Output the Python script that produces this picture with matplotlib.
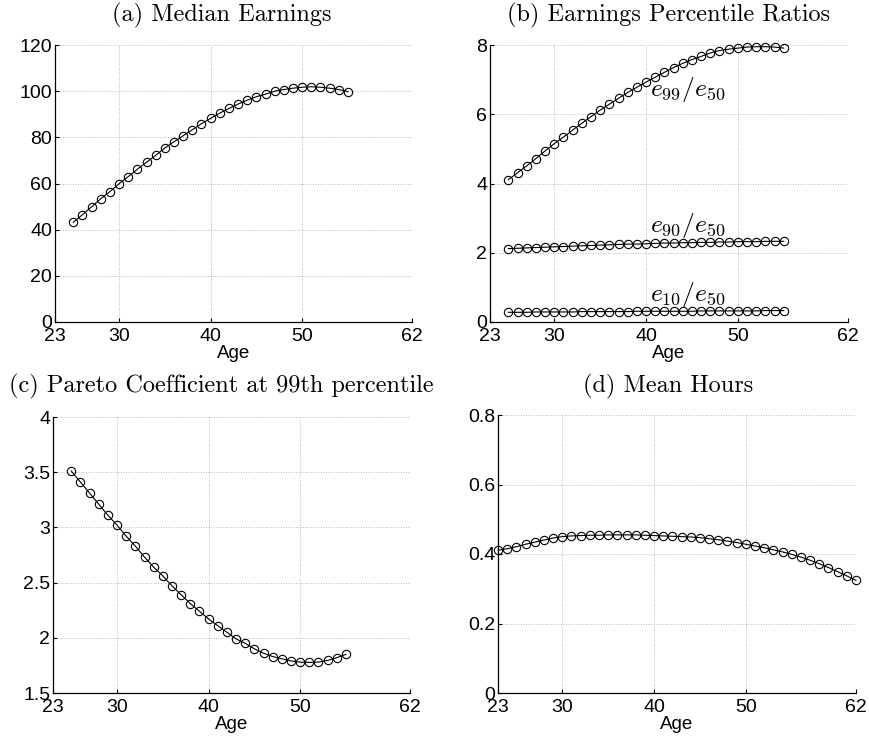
import numpy as np
import matplotlib
matplotlib.use("Agg")
from matplotlib import pyplot as plt

plt.rcParams["font.family"] = ["Liberation Sans", "DejaVu Sans"]
plt.rcParams["mathtext.fontset"] = "cm"

# ---------------------------------------------------------------------------
# Data
# ---------------------------------------------------------------------------
age_work = list(range(25, 56))
age_all = list(range(23, 63))

median_earnings = [43.2, 46.5, 49.9, 53.4, 56.5, 59.9, 63.0, 66.2, 69.2, 72.2,
                   75.4, 78.1, 80.7, 83.3, 85.9, 88.2, 90.5, 92.5, 94.4, 96.1,
                   97.6, 98.7, 100.0, 100.7, 101.3, 101.7, 101.9, 101.7, 101.3,
                   100.7, 99.8]

ratio_99_50 = [4.11, 4.31, 4.51, 4.72, 4.94, 5.15, 5.34, 5.54, 5.74, 5.93,
               6.12, 6.29, 6.46, 6.63, 6.78, 6.93, 7.07, 7.21, 7.35, 7.47,
               7.58, 7.67, 7.77, 7.84, 7.88, 7.91, 7.94, 7.95, 7.95, 7.94,
               7.91]
ratio_90_50 = [2.12, 2.13, 2.14, 2.15, 2.16, 2.17, 2.18, 2.19, 2.20, 2.21,
               2.22, 2.23, 2.24, 2.25, 2.25, 2.26, 2.27, 2.28, 2.28, 2.29,
               2.29, 2.30, 2.30, 2.31, 2.31, 2.32, 2.32, 2.32, 2.33, 2.33,
               2.33]
ratio_10_50 = [0.28, 0.28, 0.28, 0.29, 0.29, 0.29, 0.29, 0.29, 0.30, 0.30,
               0.30, 0.30, 0.30, 0.30, 0.31, 0.31, 0.31, 0.31, 0.31, 0.31,
               0.31, 0.32, 0.32, 0.32, 0.32, 0.32, 0.32, 0.32, 0.33, 0.33,
               0.33]

pareto_99 = [3.51, 3.41, 3.31, 3.21, 3.11, 3.02, 2.92, 2.83, 2.73, 2.64,
             2.56, 2.47, 2.39, 2.31, 2.24, 2.17, 2.11, 2.05, 1.99, 1.95,
             1.90, 1.86, 1.83, 1.81, 1.79, 1.78, 1.777, 1.78, 1.795, 1.82,
             1.85]

mean_hours = [0.411, 0.415, 0.421, 0.428, 0.434, 0.440, 0.446, 0.450, 0.452,
              0.453, 0.454, 0.454, 0.455, 0.455, 0.455, 0.455, 0.454, 0.453,
              0.452, 0.451, 0.450, 0.449, 0.447, 0.444, 0.441, 0.437, 0.433,
              0.428, 0.423, 0.418, 0.412, 0.406, 0.399, 0.391, 0.382, 0.372,
              0.361, 0.349, 0.337, 0.324]

x_ticks = [23, 30, 40, 50, 62]

W, H = 869, 736


def px_axes(left, top, right, bottom):
    return [left / W, 1 - bottom / H, (right - left) / W, (bottom - top) / H]


def style_axes(ax, yticks, ylabels, ylim):
    ax.set_xlim(23, 62)
    ax.set_ylim(*ylim)
    ax.set_xticks(x_ticks)
    ax.set_yticks(yticks)
    ax.set_yticklabels(ylabels)
    ax.spines["top"].set_visible(False)
    ax.spines["right"].set_visible(False)
    for s in ("left", "bottom"):
        ax.spines[s].set_linewidth(0.9)
    ax.tick_params(direction="in", length=3, width=0.8, labelsize=14)
    ax.tick_params(axis="y", pad=2)
    ax.tick_params(axis="x", pad=4)
    ax.grid(True, linestyle=(0, (1, 2)), color="#a0a0a0", linewidth=0.6)
    ax.set_axisbelow(True)
    ax.set_xlabel("Age", fontsize=13.5, labelpad=0)


def draw(ax, x, y):
    ax.plot(x, y, "-o", color="black", linewidth=0.8, markersize=6,
            markerfacecolor="none", markeredgewidth=0.8, clip_on=False)


fig = plt.figure(figsize=(W / 100, H / 100), dpi=100)

ax_a = fig.add_axes(px_axes(55, 45, 412, 322))
ax_b = fig.add_axes(px_axes(490, 45, 848, 322))
ax_c = fig.add_axes(px_axes(53, 417, 410, 693))
ax_d = fig.add_axes(px_axes(498, 415, 856, 693))

# (a) median earnings
draw(ax_a, age_work, median_earnings)
style_axes(ax_a, [0, 20, 40, 60, 80, 100, 120],
           ["0", "20", "40", "60", "80", "100", "120"], (0, 120))

# (b) percentile ratios
for series in (ratio_99_50, ratio_90_50, ratio_10_50):
    draw(ax_b, age_work, series)
style_axes(ax_b, [0, 2, 4, 6, 8], ["0", "2", "4", "6", "8"], (0, 8))
ax_b.text(40.4, 6.72, r"$e_{99}/e_{50}$", fontsize=18.5, va="center")
ax_b.text(40.4, 2.8, r"$e_{90}/e_{50}$", fontsize=18.5, va="center")
ax_b.text(40.4, 0.8, r"$e_{10}/e_{50}$", fontsize=18.5, va="center")

# (c) pareto coefficient
draw(ax_c, age_work, pareto_99)
style_axes(ax_c, [1.5, 2, 2.5, 3, 3.5, 4],
           ["1.5", "2", "2.5", "3", "3.5", "4"], (1.5, 4))

# (d) mean hours
draw(ax_d, age_all, mean_hours)
style_axes(ax_d, [0, 0.2, 0.4, 0.6, 0.8],
           ["0", "0.2", "0.4", "0.6", "0.8"], (0, 0.8))

titles = [
    ("(a) Median Earnings", 222, 15),
    ("(b) Earnings Percentile Ratios", 669, 15),
    ("(c) Pareto Coefficient at 99th percentile", 221, 386),
    ("(d) Mean Hours", 668, 386),
]
for txt, cx, cy in titles:
    fig.text(cx / W, 1 - cy / H, txt, fontsize=17.5, family="cmr10",
             ha="center", va="center")

fig.savefig("out.png", dpi=100)
